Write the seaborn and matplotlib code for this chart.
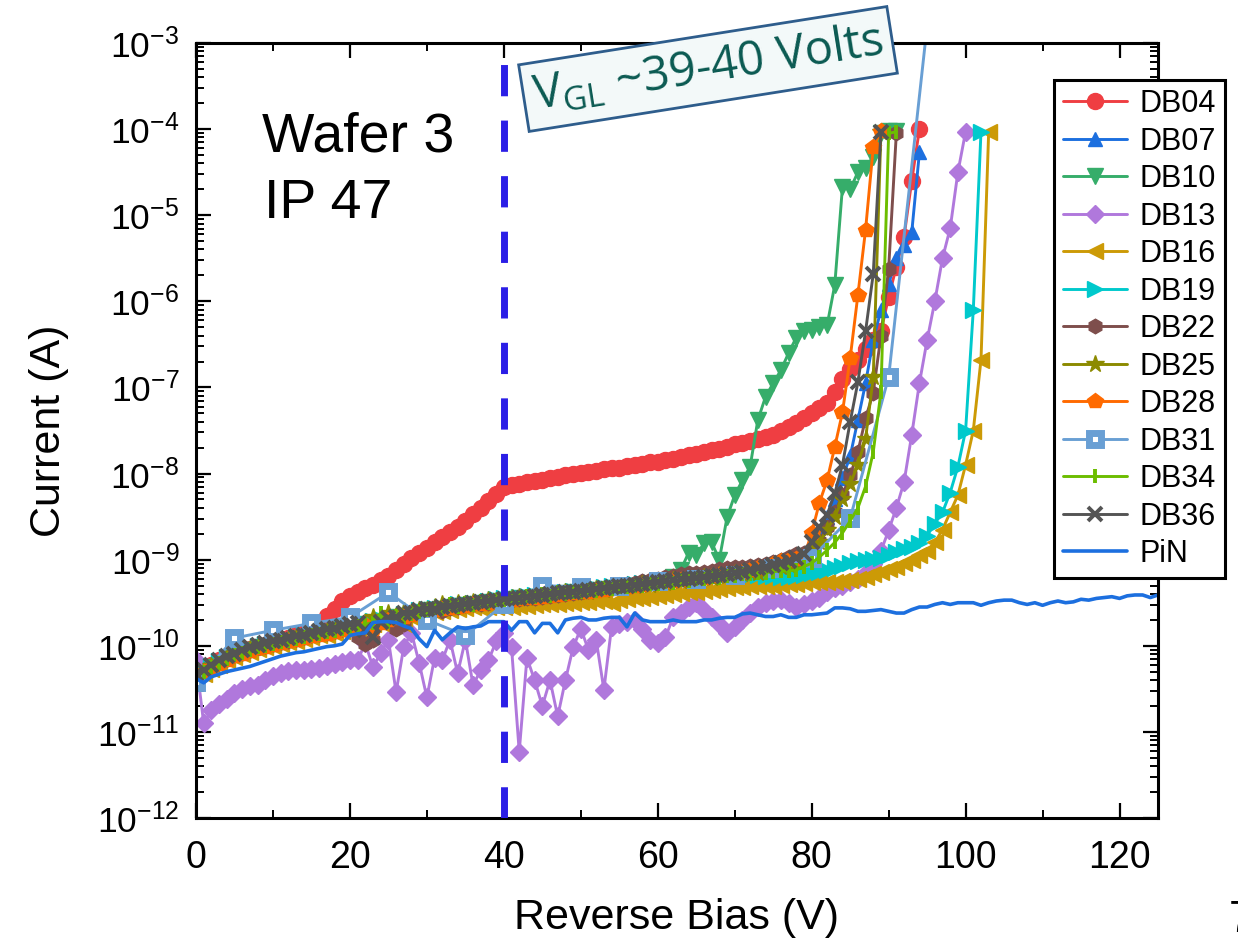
import numpy as np
import pandas as pd
import matplotlib
matplotlib.use("Agg")
import matplotlib.pyplot as plt
import seaborn as sns
from matplotlib.ticker import MultipleLocator, LogLocator, NullFormatter

# ---------------- data : log10(current / A) versus reverse bias (V) ----------------
bias = list(range(0, 126))          # 1 V steps
bias_db31 = list(range(0, 100, 5))  # DB31 measured every 5 V

db04 = [-10.33,-10.28,-10.22,-10.17,-10.13,-10.10,-10.07,-10.04,-10.01,-9.99,
        -9.96,-9.94,-9.91,-9.88,-9.84,-9.79,-9.73,-9.65,-9.57,-9.48,
        -9.42,-9.37,-9.33,-9.29,-9.24,-9.19,-9.12,-9.05,-8.98,-8.92,
        -8.86,-8.80,-8.74,-8.68,-8.62,-8.55,-8.47,-8.40,-8.32,-8.24,
        -8.16,-8.13,-8.12,-8.10,-8.09,-8.07,-8.05,-8.04,-8.02,-8.01,
        -7.99,-7.98,-7.97,-7.95,-7.94,-7.93,-7.91,-7.90,-7.89,-7.87,
        -7.86,-7.84,-7.83,-7.81,-7.79,-7.77,-7.75,-7.73,-7.71,-7.69,
        -7.66,-7.64,-7.62,-7.60,-7.58,-7.55,-7.51,-7.46,-7.41,-7.35,
        -7.30,-7.24,-7.18,-7.05,-6.90,-6.78,-6.68,-6.55,-6.45,-6.35,
        -5.95,-5.60,-5.25,-4.60,-4.00]

db07 = [-10.33,-10.28,-10.23,-10.18,-10.13,-10.10,-10.06,-10.03,-10.00,-9.98,
        -9.96,-9.94,-9.92,-9.90,-9.88,-9.86,-9.84,-9.82,-9.81,-9.79,
        -9.77,-9.75,-9.73,-9.70,-9.69,-9.67,-9.65,-9.63,-9.61,-9.59,
        -9.57,-9.56,-9.55,-9.53,-9.52,-9.51,-9.50,-9.48,-9.47,-9.46,
        -9.45,-9.44,-9.43,-9.42,-9.41,-9.40,-9.39,-9.38,-9.37,-9.36,
        -9.36,-9.35,-9.34,-9.33,-9.32,-9.31,-9.30,-9.29,-9.28,-9.27,
        -9.26,-9.25,-9.24,-9.23,-9.22,-9.21,-9.20,-9.19,-9.18,-9.17,
        -9.16,-9.15,-9.14,-9.12,-9.10,-9.08,-9.06,-9.03,-9.00,-8.95,
        -8.85,-8.70,-8.50,-8.30,-8.05,-7.80,-7.38,-6.95,-6.45,-6.10,
        -5.80,-5.50,-5.35,-5.20,-4.27]

db10 = [-10.36,-10.31,-10.25,-10.20,-10.15,-10.11,-10.08,-10.05,-10.02,-10.00,
        -9.98,-9.96,-9.94,-9.92,-9.90,-9.88,-9.86,-9.84,-9.83,-9.81,
        -9.79,-9.77,-9.75,-9.73,-9.71,-9.69,-9.67,-9.65,-9.63,-9.61,
        -9.59,-9.58,-9.57,-9.55,-9.54,-9.53,-9.52,-9.50,-9.49,-9.48,
        -9.47,-9.46,-9.45,-9.44,-9.43,-9.42,-9.41,-9.40,-9.39,-9.38,
        -9.37,-9.36,-9.35,-9.34,-9.33,-9.32,-9.31,-9.30,-9.29,-9.28,
        -9.27,-9.25,-9.20,-9.12,-8.92,-8.95,-8.81,-8.80,-9.00,-8.51,
        -8.25,-8.08,-7.92,-7.38,-7.11,-6.95,-6.80,-6.60,-6.42,-6.35,
        -6.33,-6.30,-6.28,-5.81,-4.67,-4.70,-4.50,-4.45,-4.32,-4.05,
        -4.02,-4.02]

db13 = [-10.17,-10.90,-10.75,-10.68,-10.62,-10.55,-10.50,-10.47,-10.46,-10.40,
        -10.35,-10.32,-10.29,-10.28,-10.28,-10.27,-10.26,-10.24,-10.21,-10.19,
        -10.17,-10.17,-9.97,-10.25,-10.08,-9.93,-10.54,-10.01,-9.85,-10.20,
        -10.60,-10.14,-10.17,-9.93,-10.32,-9.93,-10.46,-10.28,-10.17,-9.95,
        -9.85,-10.02,-11.23,-10.14,-10.40,-10.70,-10.40,-10.82,-10.40,-10.02,
        -9.80,-10.05,-9.93,-10.51,-9.78,-9.75,-9.72,-9.70,-9.80,-9.93,
        -9.97,-9.90,-9.67,-9.62,-9.55,-9.50,-9.58,-9.67,-9.75,-9.85,
        -9.78,-9.70,-9.62,-9.55,-9.50,-9.48,-9.47,-9.50,-9.55,-9.52,
        -9.48,-9.45,-9.38,-9.33,-9.30,-9.26,-9.22,-9.16,-9.05,-8.90,
        -8.66,-8.40,-8.10,-7.55,-6.95,-6.45,-6.00,-5.50,-5.15,-4.50,
        -4.03]

db16 = [-10.38,-10.33,-10.27,-10.22,-10.17,-10.13,-10.10,-10.07,-10.04,-10.02,
        -10.00,-9.98,-9.96,-9.94,-9.92,-9.90,-9.88,-9.87,-9.85,-9.83,
        -9.81,-9.79,-9.77,-9.75,-9.73,-9.71,-9.69,-9.75,-9.66,-9.64,
        -9.62,-9.61,-9.60,-9.58,-9.57,-9.56,-9.55,-9.56,-9.55,-9.55,
        -9.55,-9.55,-9.54,-9.54,-9.53,-9.52,-9.52,-9.51,-9.50,-9.50,
        -9.49,-9.49,-9.48,-9.48,-9.50,-9.47,-9.46,-9.45,-9.44,-9.43,
        -9.42,-9.41,-9.40,-9.39,-9.38,-9.37,-9.36,-9.35,-9.34,-9.33,
        -9.32,-9.32,-9.31,-9.31,-9.30,-9.30,-9.29,-9.28,-9.28,-9.27,
        -9.26,-9.26,-9.26,-9.26,-9.25,-9.24,-9.22,-9.20,-9.17,-9.14,
        -9.11,-9.08,-9.04,-9.00,-8.95,-8.90,-8.80,-8.65,-8.45,-8.25,
        -7.90,-7.50,-6.68,-4.03]

db19 = [-10.34,-10.29,-10.23,-10.18,-10.13,-10.10,-10.06,-10.03,-10.00,-9.98,
        -9.96,-9.94,-9.92,-9.90,-9.88,-9.86,-9.84,-9.83,-9.81,-9.79,
        -9.77,-9.75,-9.73,-9.71,-9.69,-9.67,-9.65,-9.63,-9.61,-9.59,
        -9.57,-9.56,-9.55,-9.54,-9.52,-9.51,-9.50,-9.49,-9.48,-9.46,
        -9.45,-9.44,-9.43,-9.42,-9.41,-9.40,-9.39,-9.38,-9.37,-9.36,
        -9.35,-9.34,-9.33,-9.32,-9.31,-9.30,-9.29,-9.28,-9.27,-9.26,
        -9.25,-9.24,-9.23,-9.22,-9.21,-9.20,-9.19,-9.18,-9.17,-9.17,
        -9.17,-9.17,-9.18,-9.18,-9.19,-9.19,-9.20,-9.20,-9.19,-9.18,
        -9.16,-9.14,-9.12,-9.10,-9.07,-9.04,-9.02,-9.00,-8.99,-8.98,
        -8.95,-8.91,-8.88,-8.85,-8.81,-8.72,-8.58,-8.45,-8.22,-7.92,
        -7.50,-6.10,-4.03]

db22 = [-10.37,-10.31,-10.25,-10.20,-10.15,-10.11,-10.08,-10.05,-10.02,-10.00,
        -9.98,-9.96,-9.94,-9.92,-9.90,-9.88,-9.86,-9.85,-9.83,-9.81,
        -9.79,-9.90,-9.98,-9.93,-9.72,-9.69,-9.80,-9.75,-9.63,-9.61,
        -9.59,-9.58,-9.60,-9.56,-9.55,-9.53,-9.52,-9.51,-9.50,-9.49,
        -9.48,-9.47,-9.46,-9.45,-9.44,-9.43,-9.42,-9.41,-9.40,-9.39,
        -9.37,-9.36,-9.34,-9.33,-9.31,-9.30,-9.28,-9.27,-9.25,-9.24,
        -9.22,-9.20,-9.19,-9.17,-9.16,-9.15,-9.14,-9.13,-9.11,-9.10,
        -9.09,-9.08,-9.07,-9.06,-9.05,-9.03,-9.00,-8.97,-8.94,-8.92,
        -8.88,-8.78,-8.62,-8.45,-8.25,-8.02,-7.75,-7.36,-7.06,-6.40,
        -5.62,-4.05]

db25 = [-10.34,-10.29,-10.24,-10.19,-10.14,-10.10,-10.07,-10.04,-10.01,-9.99,
        -9.97,-9.95,-9.93,-9.91,-9.89,-9.87,-9.85,-9.83,-9.82,-9.80,
        -9.78,-9.76,-9.74,-9.66,-9.70,-9.62,-9.66,-9.60,-9.62,-9.58,
        -9.58,-9.55,-9.52,-9.55,-9.50,-9.52,-9.49,-9.50,-9.47,-9.48,
        -9.46,-9.45,-9.43,-9.44,-9.41,-9.42,-9.39,-9.40,-9.37,-9.38,
        -9.36,-9.37,-9.34,-9.35,-9.32,-9.33,-9.30,-9.31,-9.28,-9.29,
        -9.26,-9.27,-9.24,-9.25,-9.22,-9.23,-9.20,-9.21,-9.18,-9.19,
        -9.16,-9.17,-9.14,-9.15,-9.12,-9.11,-9.09,-9.06,-9.03,-8.98,
        -8.92,-8.80,-8.65,-8.50,-8.30,-8.12,-7.90,-7.60,-6.88,-4.03]

db28 = [-10.36,-10.31,-10.26,-10.21,-10.16,-10.12,-10.09,-10.06,-10.03,-10.01,
        -9.99,-9.97,-9.95,-9.93,-9.91,-9.89,-9.87,-9.86,-9.84,-9.82,
        -9.80,-9.78,-9.76,-9.80,-9.74,-9.70,-9.68,-9.66,-9.64,-9.62,
        -9.60,-9.59,-9.57,-9.56,-9.55,-9.54,-9.52,-9.51,-9.50,-9.49,
        -9.48,-9.47,-9.46,-9.45,-9.44,-9.43,-9.42,-9.41,-9.40,-9.39,
        -9.38,-9.37,-9.36,-9.35,-9.34,-9.33,-9.32,-9.30,-9.29,-9.28,
        -9.27,-9.26,-9.25,-9.24,-9.23,-9.22,-9.21,-9.19,-9.18,-9.17,
        -9.15,-9.14,-9.12,-9.10,-9.08,-9.05,-9.02,-9.00,-8.99,-8.97,
        -8.69,-8.34,-8.08,-7.69,-7.29,-6.66,-5.93,-5.17,-4.21,-4.02]

db31 = [-10.42,-9.91,-9.82,-9.74,-9.67,-9.38,-9.70,-9.88,-9.52,-9.30,
        -9.32,-9.30,-9.25,-9.22,-9.18,-9.10,-8.98,-8.52,-6.88,-2.80]

db34 = [-10.35,-10.30,-10.25,-10.20,-10.15,-10.11,-10.08,-10.05,-10.02,-10.00,
        -9.98,-9.96,-9.94,-9.92,-9.90,-9.88,-9.86,-9.84,-9.83,-9.81,
        -9.79,-9.77,-9.75,-9.73,-9.62,-9.72,-9.65,-9.68,-9.63,-9.61,
        -9.59,-9.56,-9.57,-9.52,-9.55,-9.50,-9.53,-9.48,-9.50,-9.47,
        -9.47,-9.44,-9.45,-9.42,-9.43,-9.40,-9.42,-9.38,-9.40,-9.37,
        -9.38,-9.35,-9.36,-9.33,-9.34,-9.32,-9.32,-9.30,-9.30,-9.28,
        -9.28,-9.26,-9.27,-9.24,-9.25,-9.22,-9.23,-9.20,-9.21,-9.19,
        -9.19,-9.17,-9.17,-9.15,-9.15,-9.14,-9.13,-9.13,-9.12,-9.08,
        -9.04,-8.97,-8.89,-8.80,-8.69,-8.55,-8.40,-8.15,-7.75,-7.05,
        -4.05,-4.03]

db36 = [-10.33,-10.28,-10.22,-10.17,-10.12,-10.09,-10.05,-10.02,-9.99,-9.97,
        -9.95,-9.93,-9.91,-9.89,-9.87,-9.85,-9.83,-9.81,-9.79,-9.77,
        -9.75,-9.73,-9.82,-9.90,-9.72,-9.68,-9.66,-9.62,-9.62,-9.58,
        -9.57,-9.57,-9.55,-9.54,-9.53,-9.52,-9.50,-9.49,-9.48,-9.47,
        -9.46,-9.45,-9.44,-9.43,-9.42,-9.41,-9.40,-9.39,-9.38,-9.37,
        -9.36,-9.35,-9.34,-9.33,-9.32,-9.31,-9.30,-9.29,-9.28,-9.27,
        -9.26,-9.25,-9.24,-9.23,-9.22,-9.21,-9.20,-9.19,-9.18,-9.17,
        -9.16,-9.14,-9.12,-9.10,-9.08,-9.06,-9.04,-9.01,-8.98,-8.93,
        -8.80,-8.62,-8.48,-8.23,-7.90,-7.40,-6.94,-6.35,-5.68,-4.03]

pin = [-10.38,-10.43,-10.36,-10.33,-10.30,-10.28,-10.26,-10.24,-10.21,-10.18,
       -10.15,-10.12,-10.10,-10.08,-10.07,-10.05,-10.03,-10.01,-10.00,-9.98,
       -9.88,-9.86,-9.85,-9.73,-9.72,-9.72,-9.73,-9.77,-9.80,-9.92,
       -10.01,-9.82,-9.93,-9.85,-9.78,-9.80,-9.78,-9.77,-9.72,-9.72,
       -9.72,-9.82,-9.72,-9.72,-9.85,-9.74,-9.74,-9.85,-9.70,-9.68,
       -9.67,-9.70,-9.70,-9.68,-9.67,-9.67,-9.78,-9.62,-9.70,-9.72,
       -9.72,-9.72,-9.70,-9.72,-9.72,-9.72,-9.70,-9.70,-9.68,-9.67,
       -9.67,-9.63,-9.62,-9.64,-9.66,-9.66,-9.64,-9.67,-9.67,-9.64,
       -9.64,-9.63,-9.62,-9.56,-9.56,-9.57,-9.60,-9.60,-9.59,-9.58,
       -9.60,-9.62,-9.62,-9.58,-9.55,-9.55,-9.52,-9.50,-9.52,-9.50,
       -9.50,-9.50,-9.53,-9.50,-9.48,-9.47,-9.47,-9.50,-9.52,-9.50,
       -9.53,-9.50,-9.48,-9.50,-9.49,-9.46,-9.47,-9.45,-9.44,-9.43,
       -9.45,-9.42,-9.41,-9.41,-9.44,-9.41]

series_names = ["DB04", "DB07", "DB10", "DB13", "DB16", "DB19", "DB22",
                "DB25", "DB28", "DB31", "DB34", "DB36", "PiN"]
series_values = [db04, db07, db10, db13, db16, db19, db22,
                 db25, db28, db31, db34, db36, pin]

x_ticks = [0, 20, 40, 60, 80, 100, 120]
vgl = 40  # gate-loss voltage marker

# ---------------- styles ----------------
styles = {
    "DB04": dict(color="#ef3e42", marker="o", ms=11.5),
    "DB07": dict(color="#1c6fdf", marker="^", ms=10.5),
    "DB10": dict(color="#36ad6a", marker="v", ms=11.5),
    "DB13": dict(color="#b078dc", marker="D", ms=9),
    "DB16": dict(color="#cc9a06", marker="<", ms=11.5),
    "DB19": dict(color="#00c9cc", marker=">", ms=11.5),
    "DB22": dict(color="#7e4e4c", marker="h", ms=10.5),
    "DB25": dict(color="#8c8a00", marker="*", ms=13),
    "DB28": dict(color="#ff6a00", marker="p", ms=11.5),
    "DB31": dict(color="#699fd4", marker="s", ms=8),
    "DB34": dict(color="#6cbd00", marker="|", ms=10),
    "DB36": dict(color="#545454", marker="x", ms=10),
    "PiN":  dict(color="#1c6fdf", marker=None, ms=0),
}

sns.set_style("ticks")
plt.rcParams["font.family"] = ["Liberation Sans", "DejaVu Sans"]
plt.rcParams["mathtext.fontset"] = "custom"
plt.rcParams["mathtext.rm"] = "Liberation Sans"
plt.rcParams["mathtext.it"] = "Liberation Sans:italic"
plt.rcParams["axes.unicode_minus"] = False
for key in ("text.color", "axes.labelcolor", "xtick.color", "ytick.color", "axes.edgecolor"):
    plt.rcParams[key] = "black"

W, H = 1238, 947
fig = plt.figure(figsize=(W / 100, H / 100), dpi=100)
ax = fig.add_axes([196 / W, 1 - 818 / H, (1158 - 196) / W, (818 - 43) / H])

for name, vals in zip(series_names, series_values):
    st = styles[name]
    xs = bias_db31 if name == "DB31" else bias[:len(vals)]
    df = pd.DataFrame({"V": xs, "I": 10.0 ** np.asarray(vals)})
    kw = dict(color=st["color"], linewidth=2.1, label=name,
              estimator=None, sort=False, ax=ax)
    if st["marker"] is not None:
        kw.update(marker=st["marker"], markersize=st["ms"],
                  markeredgecolor=st["color"], markeredgewidth=1.0)
        if name == "DB31":
            kw.update(markerfacecolor="white", markeredgewidth=5.0)
        if name in ("DB34", "DB36"):
            kw.update(markeredgewidth=2.8)
    else:
        kw.update(linewidth=2.6)
    sns.lineplot(data=df, x="V", y="I", **kw)

ax.axvline(vgl, color="#2b1ee6", lw=5, linestyle=(0, (4.5, 3.5)), zorder=30)

ax.set_yscale("log")
ax.set_xlim(0, 125)
ax.set_ylim(1e-12, 1e-3)
ax.set_xticks(x_ticks)
ax.xaxis.set_minor_locator(MultipleLocator(10))
ax.yaxis.set_major_locator(LogLocator(base=10, numticks=20))
ax.yaxis.set_minor_locator(LogLocator(base=10, subs=np.arange(2, 10), numticks=200))
ax.yaxis.set_minor_formatter(NullFormatter())

ax.tick_params(which="both", direction="in", top=True, right=True, color="black")
ax.tick_params(which="major", length=11, width=1.6)
ax.tick_params(which="minor", length=6, width=1.4)
ax.tick_params(axis="y", which="major", labelsize=25.5, pad=12)
ax.tick_params(axis="x", which="major", labelsize=27, pad=16)
for lab in ax.get_xticklabels():
    lab.set_family(["Liberation Sans Narrow", "Liberation Sans"])
for sp in ax.spines.values():
    sp.set_linewidth(2.2)
    sp.set_color("black")

ax.set_xlabel("Reverse Bias (V)", fontsize=31, family=["Liberation Sans Narrow", "Liberation Sans"], labelpad=16)
ax.set_ylabel("Current (A)", fontsize=31, family=["Liberation Sans Narrow", "Liberation Sans"], labelpad=20)

handles, labels = ax.get_legend_handles_labels()
leg = ax.legend(handles, labels, loc="upper right",
                bbox_to_anchor=(1225 / W, 1 - 80 / H), bbox_transform=fig.transFigure,
                frameon=True, fancybox=False, edgecolor="black", framealpha=1,
                fontsize=22, handlelength=2.1, labelspacing=0.245, borderpad=0.3,
                handletextpad=0.4, borderaxespad=0, numpoints=1)
leg.get_frame().set_linewidth(2.2)
leg.set_zorder(40)

fig.text(262 / W, 1 - 152 / H, "Wafer 3", fontsize=40, va="baseline", ha="left")
fig.text(264 / W, 1 - 218 / H, "IP 47", fontsize=40, va="baseline", ha="left")

fig.text(708 / W, 1 - 69 / H, r"V$_{\mathregular{GL}}$ ~39-40 Volts",
         fontsize=34, family=["Open Sans", "DejaVu Sans"], color="#0b5a52",
         rotation=9, rotation_mode="anchor", ha="center", va="center", zorder=50,
         bbox=dict(boxstyle="square,pad=0.2", fc="#f3f9f9", ec="#2e5d8c", lw=2))

fig.text(1229 / W, 1 - 900 / H, "7", fontsize=32, va="top", ha="left")

fig.savefig("out.png", dpi=100)
